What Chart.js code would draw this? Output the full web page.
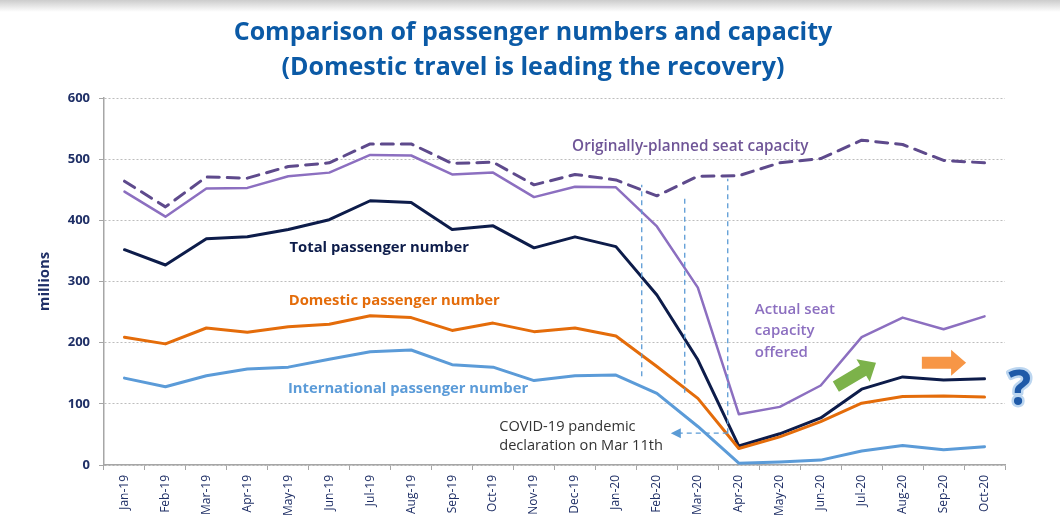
<!DOCTYPE html>
<html>
<head>
<meta charset="utf-8">
<script src="https://cdn.jsdelivr.net/npm/chart.js@4.4.1/dist/chart.umd.min.js"></script>
<style>
    html, body {margin: 0; padding: 0;}
    body {
        width: 1060px;
        height: 527px;
        background: #ffffff linear-gradient(#cccccc 0px, #ffffff 12px) no-repeat;
        overflow: hidden;
    }
    #wrap {width: 1060px; height: 527px; position: relative;}
</style>
</head>
<body>
<div id="wrap"><canvas id="chart"></canvas></div>
<script>
// months on the x axis...
var months = ['Jan-19', 'Feb-19', 'Mar-19', 'Apr-19', 'May-19', 'Jun-19', 'Jul-19', 'Aug-19', 'Sep-19', 'Oct-19', 'Nov-19', 'Dec-19',
    'Jan-20', 'Feb-20', 'Mar-20', 'Apr-20', 'May-20', 'Jun-20', 'Jul-20', 'Aug-20', 'Sep-20', 'Oct-20'];

var plannedSeats = [464, 422, 471, 469, 488, 494, 525, 525, 493, 495, 458, 475, 466, 440, 472, 473, 494, 501, 531, 524, 498, 494];
var actualSeats = [447, 406, 452, 453, 472, 478, 507, 506, 475, 478, 438, 455, 454, 390, 290, 83, 95, 130, 209, 241, 222, 243];
var totalPax = [352, 327, 370, 373, 385, 401, 432, 429, 385, 391, 355, 373, 357, 278, 172, 31, 51, 77, 124, 144, 139, 141];
var domesticPax = [209, 198, 224, 217, 226, 230, 244, 241, 220, 232, 218, 224, 211, 161, 109, 27, 46, 71, 101, 112, 113, 111];
var internationalPax = [142, 128, 146, 157, 160, 173, 185, 188, 164, 160, 138, 146, 147, 117, 63, 3, 5, 8, 23, 32, 25, 30];

var yTicks = [0, 100, 200, 300, 400, 500, 600];

var titleLines = ['Comparison of passenger numbers and capacity', '(Domestic travel is leading the recovery)'];

var navy = '#1f2f66';
var font = '"Open Sans", "Noto Sans", sans-serif';

var colors = {
    planned: '#5e4a8c',
    actual: '#8c6fc0',
    total: '#0d1c4a',
    domestic: '#e46c0a',
    international: '#5b9bd8',
    marker: '#5b9bd5'
};

// draws the title, text labels, arrows and the marker lines on top of the chart...
var notesPlugin = {
    id: 'notes',
    afterDatasetsDraw: function (chart) {

        var ctx = chart.ctx;
        var sx = chart.scales.x;
        var sy = chart.scales.y;

        var px = function (i) { return sx.getPixelForValue(i); };
        var py = function (v) { return sy.getPixelForValue(v); };

        // title, centred on the page rather than on the plot...
        ctx.save();
        ctx.font = 'bold 25px ' + font;
        ctx.fillStyle = '#0b5aa6';
        ctx.textAlign = 'center';
        ctx.textBaseline = 'middle';
        ctx.fillText(titleLines[0], 533, 33);
        ctx.fillText(titleLines[1], 533, 68);
        ctx.restore();

        var label = function (text, i, v, color, weight, size) {
            ctx.save();
            ctx.font = weight + ' ' + size + 'px ' + font;
            ctx.fillStyle = color;
            ctx.textAlign = 'left';
            ctx.textBaseline = 'middle';
            ctx.fillText(text, px(i), py(v));
            ctx.restore();
        };

        label('Originally-planned seat capacity', 10.93, 520, '#6f5597', '600', 15.3);
        label('Total passenger number', 4.03, 355, colors.total, 'bold', 14.8);
        label('Domestic passenger number', 4.01, 268, colors.domestic, 'bold', 14.8);
        label('International passenger number', 3.99, 124, colors.international, 'bold', 14.8);
        label('Actual seat', 15.39, 254, colors.actual, '600', 15);
        label('capacity', 15.39, 219, colors.actual, '600', 15);
        label('offered', 15.39, 183, colors.actual, '600', 15);
        label('COVID-19 pandemic', 9.15, 62, '#333333', 'normal', 14.6);
        label('declaration on Mar 11th', 9.15, 31, '#333333', 'normal', 14.6);

        // dashed marker lines...
        var markers = [[12.63, 145, 458], [13.68, 118, 442], [14.73, 52, 468]];

        ctx.save();
        ctx.strokeStyle = colors.marker;
        ctx.lineWidth = 1.3;
        ctx.setLineDash([5, 4]);
        for (var i = 0; i < markers.length; i++) {
            ctx.beginPath();
            ctx.moveTo(px(markers[i][0]), py(markers[i][1]));
            ctx.lineTo(px(markers[i][0]), py(markers[i][2]));
            ctx.stroke();
        }

        // arrow pointing at the covid note...
        var ax0 = px(14.73), ax1 = px(13.34), ay = py(52);
        ctx.beginPath();
        ctx.moveTo(ax0, ay);
        ctx.lineTo(ax1 + 8, ay);
        ctx.stroke();
        ctx.setLineDash([]);
        ctx.fillStyle = colors.marker;
        ctx.beginPath();
        ctx.moveTo(ax1, ay);
        ctx.lineTo(ax1 + 10, ay - 5);
        ctx.lineTo(ax1 + 10, ay + 5);
        ctx.closePath();
        ctx.fill();
        ctx.restore();

        // block arrows...
        var blockArrow = function (i0, v0, i1, v1, color) {
            var x0 = px(i0), y0 = py(v0), x1 = px(i1), y1 = py(v1);
            var len = Math.sqrt((x1 - x0) * (x1 - x0) + (y1 - y0) * (y1 - y0));
            var ux = (x1 - x0) / len, uy = (y1 - y0) / len;
            var nx = -uy, ny = ux;
            var hw = 6, hh = 13, hl = 15;
            var bx = x1 - ux * hl, by = y1 - uy * hl;

            ctx.save();
            ctx.fillStyle = color;
            ctx.beginPath();
            ctx.moveTo(x0 + nx * hw, y0 + ny * hw);
            ctx.lineTo(bx + nx * hw, by + ny * hw);
            ctx.lineTo(bx + nx * hh, by + ny * hh);
            ctx.lineTo(x1, y1);
            ctx.lineTo(bx - nx * hh, by - ny * hh);
            ctx.lineTo(bx - nx * hw, by - ny * hw);
            ctx.lineTo(x0 - nx * hw, y0 - ny * hw);
            ctx.closePath();
            ctx.fill();
            ctx.restore();
        };

        blockArrow(17.37, 128, 18.35, 167, '#7cb24a');
        blockArrow(19.47, 167, 20.55, 167, '#f79646');

        // question mark at the end...
        ctx.save();
        ctx.font = 'bold 48px ' + font;
        ctx.textAlign = 'center';
        ctx.textBaseline = 'middle';
        ctx.lineJoin = 'round';
        ctx.strokeStyle = '#bcd6f0';
        ctx.lineWidth = 5;
        ctx.strokeText('?', px(21.86), py(121));
        ctx.fillStyle = '#1f5aa8';
        ctx.fillText('?', px(21.86), py(121));
        ctx.restore();
    }
};

var ctx = document.getElementById('chart').getContext('2d');

var chart = new Chart(ctx, {
    type: 'line',
    data: {
        labels: months,
        datasets: [
            {
                label: 'International passenger number',
                data: internationalPax,
                borderColor: colors.international,
                borderWidth: 3
            },
            {
                label: 'Domestic passenger number',
                data: domesticPax,
                borderColor: colors.domestic,
                borderWidth: 3
            },
            {
                label: 'Total passenger number',
                data: totalPax,
                borderColor: colors.total,
                borderWidth: 3
            },
            {
                label: 'Actual seat capacity offered',
                data: actualSeats,
                borderColor: colors.actual,
                borderWidth: 2.5
            },
            {
                label: 'Originally-planned seat capacity',
                data: plannedSeats,
                borderColor: colors.planned,
                borderWidth: 3,
                borderDash: [12, 8]
            }
        ]
    },
    options: {
        responsive: true,
        maintainAspectRatio: false,
        animation: false,
        elements: {
            point: {radius: 0},
            line: {tension: 0, borderCapStyle: 'round', borderJoinStyle: 'round'}
        },
        layout: {
            padding: {left: 0, right: 55, top: 98, bottom: 0}
        },
        plugins: {
            legend: {display: false},
            tooltip: {enabled: false},
            title: {display: false}
        },
        scales: {
            x: {
                offset: true,
                grid: {
                    display: true,
                    drawOnChartArea: false,
                    drawTicks: true,
                    tickLength: 5,
                    offset: true,
                    tickColor: '#a6a6a6'
                },
                border: {display: true, color: '#a6a6a6', width: 1.5},
                ticks: {
                    autoSkip: false,
                    minRotation: 90,
                    maxRotation: 90,
                    padding: 5,
                    color: navy,
                    font: {family: font, size: 12}
                },
                afterFit: function (scale) {
                    scale.height = 62;
                }
            },
            y: {
                min: 0,
                max: 600,
                afterBuildTicks: function (scale) {
                    scale.ticks = yTicks.map(function (v) { return {value: v}; });
                },
                grid: {
                    color: '#bdbdbd',
                    lineWidth: 1,
                    drawTicks: true,
                    tickLength: 5,
                    tickColor: '#a6a6a6',
                    tickBorderDash: []
                },
                // in v4 the dash of the grid lines sits under border...
                border: {display: true, color: '#a6a6a6', width: 1.5, dash: [2, 2]},
                ticks: {
                    padding: 9,
                    color: navy,
                    font: {family: font, size: 13, weight: 'bold'}
                },
                title: {
                    display: true,
                    text: 'millions',
                    color: navy,
                    font: {family: font, size: 15, weight: 'bold', lineHeight: 1.2},
                    padding: {top: 36, bottom: 0}
                },
                afterFit: function (scale) {
                    scale.width = 104;
                }
            }
        }
    },
    plugins: [notesPlugin]
});
</script>
</body>
</html>
